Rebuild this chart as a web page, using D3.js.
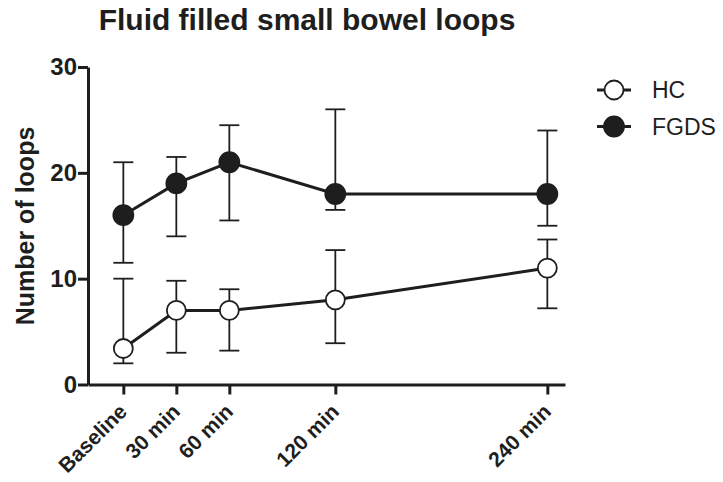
<!DOCTYPE html>
<html>
<head>
<meta charset="utf-8">
<script src="https://cdn.jsdelivr.net/npm/d3@7"></script>
<style>
  body { margin: 0; background: #fff; }
  text { font-family: "Liberation Sans", Arial, sans-serif; fill: #1e1e1e; }
</style>
</head>
<body>
<div id="chart"></div>
<script>
// time points (minutes) and their labels
var times = [0, 30, 60, 120, 240];
var timeLabels = ["Baseline", "30 min", "60 min", "120 min", "240 min"];

// HC: median with lower / upper whisker
var hcValues = [3.4, 7, 7, 8, 11];
var hcLow = [2, 3, 3.2, 3.9, 7.2];
var hcHigh = [10, 9.8, 9, 12.7, 13.7];

// FGDS
var fgdsValues = [16, 19, 21, 18, 18];
var fgdsLow = [11.5, 14, 15.5, 16.5, 15];
var fgdsHigh = [21, 21.5, 24.5, 26, 24];

var yTicks = [0, 10, 20, 30];

var width = 723, height = 482;
var ink = "#1e1e1e";

var svg = d3.select("#chart").append("svg")
    .attr("width", width)
    .attr("height", height);

var x = d3.scaleLinear().domain([-20, 250]).range([88, 565]);
var y = d3.scaleLinear().domain([0, 30]).range([384.5, 67]);

// title
svg.append("text")
    .attr("x", 307)
    .attr("y", 30)
    .attr("text-anchor", "middle")
    .style("font-size", "30px")
    .style("font-weight", "bold")
    .text("Fluid filled small bowel loops");

// y axis
var yAxis = svg.append("g")
    .attr("transform", "translate(88,0)")
    .call(d3.axisLeft(y).tickValues(yTicks).tickSize(10).tickPadding(1).tickSizeOuter(0));

// x axis
var xAxis = svg.append("g")
    .attr("transform", "translate(0," + y(0) + ")")
    .call(d3.axisBottom(x).tickValues(times).tickSize(10).tickSizeOuter(0).tickFormat(""));

[yAxis, xAxis].forEach(function(ax) {
    ax.select(".domain").attr("stroke", ink).attr("stroke-width", 3);
    ax.selectAll(".tick line").attr("stroke", ink).attr("stroke-width", 3);
});
yAxis.selectAll(".tick text")
    .style("font-size", "24px")
    .style("font-weight", "bold")
    .attr("fill", ink);

// rotated x labels
svg.append("g").selectAll("text")
    .data(times)
    .enter().append("text")
    .attr("text-anchor", "end")
    .attr("transform", function(d) {
        return "translate(" + (x(d) + 5) + ",413) rotate(-45)";
    })
    .style("font-size", "21px")
    .style("font-weight", "bold")
    .text(function(d, i) { return timeLabels[i]; });

// y axis title
svg.append("text")
    .attr("transform", "translate(34,226) rotate(-90)")
    .attr("text-anchor", "middle")
    .style("font-size", "25px")
    .style("font-weight", "bold")
    .text("Number of loops");

var series = [
    { name: "HC", values: hcValues, low: hcLow, high: hcHigh, fill: "#fff", r: 9.5 },
    { name: "FGDS", values: fgdsValues, low: fgdsLow, high: fgdsHigh, fill: ink, r: 10 }
];

var line = d3.line()
    .x(function(d) { return x(d.t); })
    .y(function(d) { return y(d.v); });

series.forEach(function(s) {
    var pts = times.map(function(t, i) {
        return { t: t, v: s.values[i], lo: s.low[i], hi: s.high[i] };
    });
    var g = svg.append("g");

    // error bars
    var eb = g.selectAll(".eb").data(pts).enter().append("g")
        .attr("stroke", ink)
        .attr("stroke-width", 1.8);
    eb.append("line")
        .attr("x1", function(d) { return x(d.t); })
        .attr("x2", function(d) { return x(d.t); })
        .attr("y1", function(d) { return y(d.lo); })
        .attr("y2", function(d) { return y(d.hi); });
    eb.append("line")
        .attr("x1", function(d) { return x(d.t) - 10; })
        .attr("x2", function(d) { return x(d.t) + 10; })
        .attr("y1", function(d) { return y(d.hi); })
        .attr("y2", function(d) { return y(d.hi); });
    eb.append("line")
        .attr("x1", function(d) { return x(d.t) - 10; })
        .attr("x2", function(d) { return x(d.t) + 10; })
        .attr("y1", function(d) { return y(d.lo); })
        .attr("y2", function(d) { return y(d.lo); });

    g.append("path")
        .datum(pts)
        .attr("d", line)
        .attr("fill", "none")
        .attr("stroke", ink)
        .attr("stroke-width", 3);

    g.selectAll("circle").data(pts).enter().append("circle")
        .attr("cx", function(d) { return x(d.t); })
        .attr("cy", function(d) { return y(d.v); })
        .attr("r", s.r)
        .attr("fill", s.fill)
        .attr("stroke", ink)
        .attr("stroke-width", 1.8);
});

// legend
var legend = svg.append("g").selectAll("g")
    .data(series)
    .enter().append("g")
    .attr("transform", function(d, i) { return "translate(614," + (90 + i * 36.5) + ")"; });
legend.append("line")
    .attr("x1", -17).attr("x2", 17)
    .attr("stroke", ink)
    .attr("stroke-width", 3);
legend.append("circle")
    .attr("r", function(d) { return d.r; })
    .attr("fill", function(d) { return d.fill; })
    .attr("stroke", ink)
    .attr("stroke-width", 1.8);
legend.append("text")
    .attr("x", 38)
    .attr("y", 8)
    .style("font-size", "23px")
    .text(function(d) { return d.name; });
</script>
</body>
</html>
